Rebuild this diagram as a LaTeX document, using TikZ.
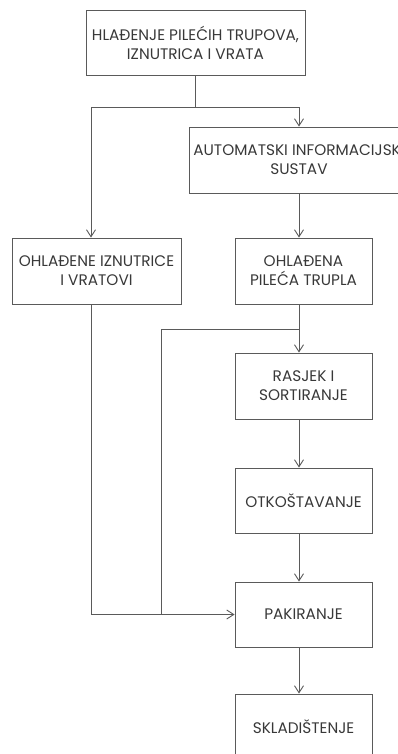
\documentclass[tikz,border=0pt]{standalone}
\usepackage{fontspec}
\setmainfont{Poppins}
\usetikzlibrary{arrows.meta,positioning,calc}
\definecolor{Line}{HTML}{5A5A5A}
\definecolor{Ink}{HTML}{383838}

\begin{document}
\begin{tikzpicture}[x=1pt,y=-1pt,
  box/.style={draw=Line,line width=0.9pt,text=Ink,align=center,inner sep=0pt,
    minimum height=66pt,font=\fontsize{15.3}{19}\selectfont},
  flow/.style={draw=Line,line width=0.9pt,-{Straight Barb[length=7pt,width=9pt]}},
  link/.style={draw=Line,line width=0.9pt}]
  \useasboundingbox (0,0) rectangle (398,754);
  \clip (0,0) rectangle (398,754);
  % boxes
  \node[box,minimum width=219pt,minimum height=65pt] (hladenje) at (195.5,42.5) {HLAĐENJE PILEĆIH TRUPOVA,\\IZNUTRICA I VRATA};
  \node[box,minimum width=220pt] (ais) at (299,160) {AUTOMATSKI INFORMACIJSKI\\SUSTAV};
  \node[box,minimum width=169pt] (iznutrice) at (96.5,271) {OHLAĐENE IZNUTRICE\\I VRATOVI};
  \node[box,minimum width=137pt] (trupla) at (303.5,271) {OHLAĐENA\\PILEĆA TRUPLA};
  \node[box,minimum width=137pt] (rasjek) at (303.5,386) {RASJEK I\\SORTIRANJE};
  \node[box,minimum width=137pt,minimum height=65pt] (otkost) at (303.5,500.5) {OTKOŠTAVANJE};
  \node[box,minimum width=137pt,minimum height=65pt] (pakiranje) at (303.5,614.5) {PAKIRANJE};
  \node[box,minimum width=137pt,minimum height=65pt] (skladiste) at (303.5,726.5) {SKLADIŠTENJE};
  % helper points
  \coordinate (main) at (299,0);
  \coordinate (side) at (91,0);
  \coordinate (split) at (195.5,107);
  \coordinate (branch) at (299,329);
  \coordinate (bypass) at (161,329);
  % connectors
  \draw[link] (hladenje.south) -- (split);
  \draw[flow] (split) -| (ais.north -| main);
  \draw[flow] (split) -| (iznutrice.north -| side);
  \draw[flow] (ais.south -| main) -- (trupla.north -| main);
  \draw[flow] (trupla.south -| main) -- (rasjek.north -| main);
  \draw[link] (branch) -- (bypass) -- (bypass |- pakiranje.west);
  \draw[flow] (iznutrice.south -| side) |- (pakiranje.west);
  \draw[flow] (rasjek.south -| main) -- (otkost.north -| main);
  \draw[flow] (otkost.south -| main) -- (pakiranje.north -| main);
  \draw[flow] (pakiranje.south -| main) -- (skladiste.north -| main);
\end{tikzpicture}
\end{document}
